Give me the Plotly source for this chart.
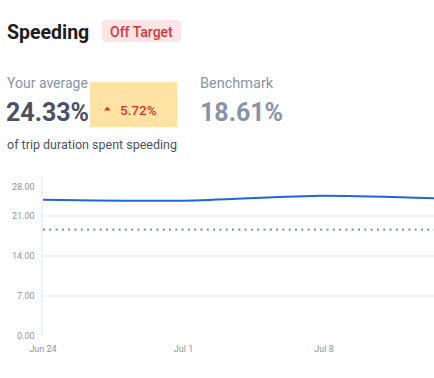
import plotly.graph_objects as go

# ---- data ----
dates = ["2024-06-24", "2024-07-01", "2024-07-08", "2024-07-15"]
speeding_pct = [23.85, 23.68, 24.55, 23.9]
benchmark = 18.61
your_average = "24.33%"
delta = "5.72%"
benchmark_label = "18.61%"
y_ticks = [0, 7, 14, 21, 28]
y_tick_text = ["0.00", "7.00", "14.00", "21.00", "28.00"]
x_ticks = ["2024-06-24", "2024-07-01", "2024-07-08"]
x_tick_text = ["Jun 24", "Jul 1", "Jul 8"]

W, H = 434, 378
L, R, T, B = 43, 0, 176, 42
PW, PH = W - L - R, H - T - B

def px(x):
    return (x - L) / PW

def py(y):
    return (H - B - y) / PH

FONT = "Roboto, Liberation Sans, sans-serif"

fig = go.Figure()
fig.add_trace(go.Scatter(
    x=dates, y=speeding_pct, mode="lines",
    line=dict(color="#1f66d8", width=2, shape="spline", smoothing=0.8),
    hoverinfo="skip", showlegend=False))
fig.add_trace(go.Scatter(
    x=[dates[0], dates[-1]], y=[benchmark, benchmark], mode="lines",
    line=dict(color="#8a94a6", width=2.2, dash="2px,4.3px"),
    hoverinfo="skip", showlegend=False))

shapes = []
# yellow box
shapes.append(dict(type="rect", xref="paper", yref="paper",
                   x0=px(90), x1=px(177), y0=py(127), y1=py(82),
                   fillcolor="#ffe3a5", line=dict(width=0), layer="below"))
# rounded badge
def rounded(x0, y0, x1, y1, r):
    return (f"M {px(x0+r)},{py(y0)} L {px(x1-r)},{py(y0)} "
            f"Q {px(x1)},{py(y0)} {px(x1)},{py(y0+r)} "
            f"L {px(x1)},{py(y1-r)} Q {px(x1)},{py(y1)} {px(x1-r)},{py(y1)} "
            f"L {px(x0+r)},{py(y1)} Q {px(x0)},{py(y1)} {px(x0)},{py(y1-r)} "
            f"L {px(x0)},{py(y0+r)} Q {px(x0)},{py(y0)} {px(x0+r)},{py(y0)} Z")
shapes.append(dict(type="path", xref="paper", yref="paper",
                   path=rounded(102, 20, 181, 42, 4),
                   fillcolor="#fde4e7", line=dict(width=0), layer="below"))
# triangle
shapes.append(dict(type="path", xref="paper", yref="paper",
                   path=f"M {px(104)},{py(110.5)} L {px(110.5)},{py(110.5)} L {px(107.25)},{py(106.5)} Z",
                   fillcolor="#d9392b", line=dict(width=0)))

ann = []
def text(t, x, y, size, color, weight=400, xanchor="left", family=FONT):
    ann.append(dict(text=t, x=px(x), y=py(y),
                    xref="paper", yref="paper", xanchor=xanchor, yanchor="middle",
                    showarrow=False,
                    font=dict(size=size, color=color, family=family, weight=weight)))

text("Speeding", 5, 32, 19.5, "#1b1d21", weight=700)
text("Off Target", 141.5, 31.5, 14, "#d63a3a", weight=500, xanchor="center")
text("Your average", 5, 83, 14, "#8a94a6")
text(your_average, 4, 112, 25, "#4a5262", weight=700)
text(delta, 118, 109.5, 13.5, "#d9392b", weight=500)
text("Benchmark", 198, 83, 14.5, "#8a94a6")
text(benchmark_label, 198, 112, 25, "#8794a8", weight=700)
text("of trip duration spent speeding", 5, 144, 12.5, "#4a5262")

# y tick labels (top one shifted into view, as in the reference)
for v, t in zip(y_ticks, y_tick_text):
    ann.append(dict(text=t, x=0, y=v, xref="paper", yref="y",
                    xanchor="right", yanchor="middle", xshift=-6,
                    yshift=-11 if v == 28 else 0, showarrow=False,
                    font=dict(size=9, color="#8a94a6", family=FONT)))

fig.update_layout(
    width=W, height=H, margin=dict(l=L, r=R, t=T, b=B),
    paper_bgcolor="white", plot_bgcolor="white",
    shapes=shapes, annotations=ann,
    xaxis=dict(range=["2024-06-24", "2024-07-13 11:30"], tickvals=x_ticks,
               ticktext=x_tick_text, showgrid=False, zeroline=False,
               showline=False, ticks="outside", ticklen=4, tickcolor="rgba(0,0,0,0)",
               tickfont=dict(size=9, color="#8a94a6", family=FONT),
               fixedrange=True),
    yaxis=dict(range=[0, 28], tickvals=y_ticks, showticklabels=False,
               showgrid=True, gridcolor="#eef0f5", gridwidth=1.5, zeroline=False,
               showline=True, linecolor="#eef0f5", linewidth=1.5, ticks="",
               fixedrange=True),
)

fig.write_html("out.html", config={"displayModeBar": False},
               post_script="document.body.style.margin='0';document.body.style.padding='0';")
